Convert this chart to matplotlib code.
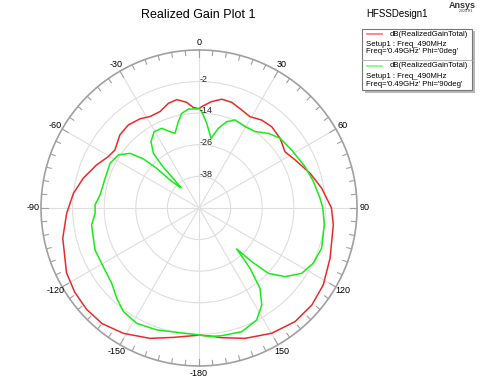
import numpy as np
import matplotlib
matplotlib.use('Agg')
import matplotlib.pyplot as plt

plt.rcParams['font.family'] = ['Liberation Sans', 'DejaVu Sans']

# Phi = 0deg (red), angle in deg, gain in dB
red_theta = [-180, -168.8, -159.4, -148.9, -140, -132, -124, -116, -102.5, -92.3,
             -83.3, -75.6, -67.2, -60.5, -55.4, -47.3, -40.4, -33.5, -28.2, -22.0, -16.3,
             -11.6, -6.7, -3.2, 0, 1.5, 6.8, 11.8, 17.2, 23.5, 29.2, 35.5, 41.8, 49.3, 56.8,
             63.4, 72.7, 80.9, 90, 97.2, 111, 121.8, 130.7, 139.8, 149.9, 160.6, 170.1, 175.1, 180]
red_db = [-1.7, 0.1, 2.9, 5.6, 7.3, 7.5, 7.0, 6.0, 3.0, 0.3,
          -2.0, -4.6, -7.8, -10.4, -11.2, -9.1, -8.6, -9.4, -10.6, -10.5, -8.6,
          -8.0, -9.6, -11.8, -12.3, -11.5, -9.3, -7.8, -8.0, -9.4, -10.3, -9.0, -8.6, -9.4, -11.0,
          -9.2, -5.8, -2.8, 0.3, 1.4, 3.3, 5.5, 6.5, 6.5, 5.0, 2.5, 0.0, -1.2, -1.7]

# Phi = 90deg (green)
green_theta = [-180, -171.3, -160.9, -151.6, -143.9, -137.7, -130.8, -123.4, -112, -99, -92.9, -88.3,
               -82.5, -72.5, -63.3, -56.7, -51.6, -48.6, -46.9, -46.0, -43.5, -41.5, -41.2,
               -41.3, -39.9, -35.9, -30.5, -25.1, -20.8, -17.8, -13.5, -10.4, -6.1, -1.4, 0,
               1.6, 5.2, 9.8, 13.6, 17.8, 22.2, 29.5, 36.3, 42.9, 49.3, 58, 68.7, 77, 85.4, 90,
               97.7, 108.2, 115.8, 122.5, 128.6, 133.3, 135.5, 137.4, 139.8, 142.8, 147.1,
               152.8, 161, 169.9, 175.1, 180]
green_db = [-1.8, -2.1, -1.0, -0.2, -1.3, -3.6, -6.2, -7.2, -7.4, -8.7, -10.5, -10.5,
            -12.1, -12.6, -12.2, -13.3, -16.6, -21.8, -28.0, -34.7, -38.5, -39.7, -35.0,
            -29.7, -23.0, -18.9, -16.4, -16.6, -19.0, -20.2, -16.3, -13.5, -12.2, -12.4, -12.2,
            -13.4, -17.7, -23.2, -18.9, -15.6, -13.9, -14.5, -14.0, -11.3, -9.4, -8.5, -6.8, -5.4, -3.9, -3.0,
            -2.0, -1.0, -1.8, -3.8, -8.2, -13.8, -21.4, -28.9, -20.0, -11.7, -6.1,
            -2.15, -0.3, -0.75, -1.0, -1.8]

ring_vals = [-38, -26, -14, -2]
angle_ticks = [0, 30, 60, 90, 120, 150, 180, -150, -120, -90, -60, -30]
angle_labels = ['0', '30', '60', '90', '120', '150', '-180', '-150', '-120', '-90', '-60', '-30']

fig = plt.figure(figsize=(4.82, 3.85), dpi=100)
ax = fig.add_axes([0.0851, 0.0494, 0.6556, 0.8208], projection='polar')
ax.set_theta_zero_location('N')
ax.set_theta_direction(-1)
ax.set_ylim(-50, 10)

ax.set_xticks(np.radians(np.arange(0, 360, 30)))
ax.set_xticklabels([])
ax.set_yticks(ring_vals)
ax.set_yticklabels([])
ax.grid(True, color='#dedede', lw=0.8)
ax.spines['polar'].set_color('#a0a0a0')
ax.spines['polar'].set_linewidth(1.2)

# outer tick marks every 5 deg
for a in range(0, 360, 5):
    L = 2.7 if a % 30 == 0 else 1.9
    ax.plot([np.radians(a)] * 2, [10, 10 - L], color='#a0a0a0', lw=0.8, clip_on=False)

for a, lab in zip(angle_ticks, angle_labels):
    ax.text(np.radians(a), 12.9, lab, ha='center', va='center', fontsize=6.5, clip_on=False)

for v in ring_vals:
    ax.text(np.radians(0.3), v + 0.85, str(v), ha='left', va='center', fontsize=6.5, color='#222222')

ax.plot(np.radians(red_theta), red_db, color='#ea2a2a', lw=1.1)
ax.plot(np.radians(green_theta), green_db, color='#18ec18', lw=1.1)

# titles
fig.text(198 / 482, 1 - 15 / 385, 'Realized Gain Plot 1', ha='center', va='center', fontsize=9)
fig.text(366 / 482, 1 - 14 / 385, 'HFSSDesign1', ha='left', va='center', fontsize=7)
fig.text(462 / 482, 1 - 5 / 385, 'Ansys', ha='center', va='center', fontsize=6.5, fontweight='bold', color='#333333')
fig.text(466 / 482, 1 - 11.5 / 385, '2024 R1', ha='center', va='center', fontsize=2.5, color='#333333')

# legend box, drawn by hand in HFSS style
W, H = 482, 385
def fx(x): return x / W
def fy(y): return 1 - y / H

shadow = plt.Rectangle((fx(365), fy(93)), fx(472) - fx(362), fy(28) - fy(90), transform=fig.transFigure,
                       facecolor='#b8b8b8', edgecolor='none', zorder=1)
box = plt.Rectangle((fx(362), fy(90)), fx(472) - fx(362), fy(28.5) - fy(90), transform=fig.transFigure,
                    facecolor='white', edgecolor='#777777', lw=0.8, zorder=2)
fig.patches.extend([shadow, box])
fig.lines.append(plt.Line2D([fx(362), fx(472)], [fy(59.5)] * 2, transform=fig.transFigure,
                            color='#aaaaaa', lw=0.6, zorder=3))

entries = [('#ff8080', 34.3, 44.3, 51.7, '0deg'), ('#80ff80', 65.7, 76, 84, '90deg')]
for col, y1, y2, y3, phi in entries:
    fig.lines.append(plt.Line2D([fx(366.7), fx(381.7)], [fy(y1)] * 2, transform=fig.transFigure,
                                color=col, lw=1.3, zorder=3))
    fig.text(fx(390), fy(y1), 'dB(RealizedGainTotal)', ha='left', va='center', fontsize=5.6, zorder=4)
    fig.text(fx(365.5), fy(y2), 'Setup1 : Freq_490MHz', ha='left', va='center', fontsize=5.6, zorder=4)
    fig.text(fx(365.5), fy(y3), "Freq='0.49GHz' Phi='" + phi + "'", ha='left', va='center', fontsize=5.6, zorder=4)

fig.savefig('out.png', dpi=100)
